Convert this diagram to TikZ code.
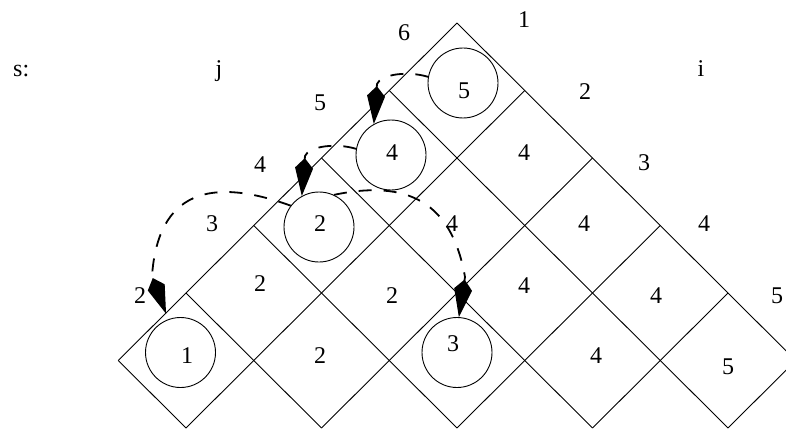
\documentclass[tikz,border=0pt]{standalone}
\usepackage{fontspec}
\setmainfont{Liberation Serif}
\usetikzlibrary{arrows.meta}
\begin{document}
\begin{tikzpicture}[x=1pt,y=-1pt,
  gridline/.style={line width=0.9pt},
  ring/.style={circle,draw,line width=0.9pt,minimum size=70pt,inner sep=0pt},
  num/.style={font=\fontsize{24}{28}\selectfont,inner sep=0pt},
  lbl/.style={font=\fontsize{24}{28}\selectfont,inner sep=0pt,anchor=base},
  jump/.style={line width=1.8pt,dash pattern=on 13pt off 12pt,
    -{Kite[length=38pt,width=18pt,inset=10pt]}},
]
\useasboundingbox (0,0) rectangle (786,433);
\clip (0,0) rectangle (786,433);

% diamond grid: vertex (a,b) sits at (457+67.75(a-b), 23+67.5(a+b))
\foreach \k in {0,...,5}{
  \pgfmathsetmacro{\e}{\k==0 ? 5 : 6-\k}
  \draw[gridline] ({457+67.75*\k},{23+67.5*\k}) -- ({457+67.75*(\k-\e)},{23+67.5*(\k+\e)});
  \draw[gridline] ({457-67.75*\k},{23+67.5*\k}) -- ({457+67.75*(\e-\k)},{23+67.5*(\e+\k)});
}

% row and column headers
\node[lbl,anchor=base west] (s) at (13,77) {s:};
\node[lbl] (j) at (219,77) {j};
\node[lbl] (i) at (701,77) {i};

\node[num] (l6) at (404,33) {6};
\node[num] (l5) at (320,103) {5};
\node[num] (l4) at (260,165) {4};
\node[num] (l3) at (212,224) {3};
\node[num] (l2) at (140,296) {2};

\node[num] (r1) at (524,20) {1};
\node[num] (r2) at (585,92) {2};
\node[num] (r3) at (644,163) {3};
\node[num] (r4) at (704,224) {4};
\node[num] (r5) at (777,296) {5};

% circled cells
\node[ring] (c5) at (463,83) {};
\node[ring] (c4) at (391,155) {};
\node[ring] (c2) at (319,227) {};
\node[ring] (c1) at (180.5,352.5) {};
\node[ring] (c3) at (457,352.5) {};
\node[num] (t5) at (464,91) {5};
\node[num] (t4) at (392,153) {4};
\node[num] (t2) at (320,224) {2};
\node[num] (t1) at (187,356) {1};
\node[num] (t3) at (453,344) {3};

% plain cell values
\node[num] (v11) at (524,153) {4};
\node[num] (v21) at (452,224) {4};
\node[num] (v22) at (584,224) {4};
\node[num] (v30) at (260,284) {2};
\node[num] (v31) at (392,296) {2};
\node[num] (v32) at (524,286) {4};
\node[num] (v33) at (656,296) {4};
\node[num] (v41) at (320,356) {2};
\node[num] (v43) at (596,356) {4};
\node[num] (v44) at (728,367) {5};

% back-pointer arcs
\coordinate (a1) at (152,276);
\coordinate (a2) at (305,156);
\coordinate (a3) at (377,84);
\coordinate (a4) at (465,277);
\draw[jump,shorten >=6pt] (c2.143) .. controls +(-80,-29) and +(6,-85) .. (a1) -- (c1);
\draw[jump] (c4.170) .. controls +(-19.5,-6) and +(4,-10) .. (a2) -- (c2.119);
\draw[jump] (c5.170) .. controls +(-19.5,-6) and +(4,-10) .. (a3) -- (c4.119);
\draw[jump] (c2.65) .. controls +(74,-15.7) and +(-13,-74.5) .. (a4) -- (c3.87);
\end{tikzpicture}
\end{document}
